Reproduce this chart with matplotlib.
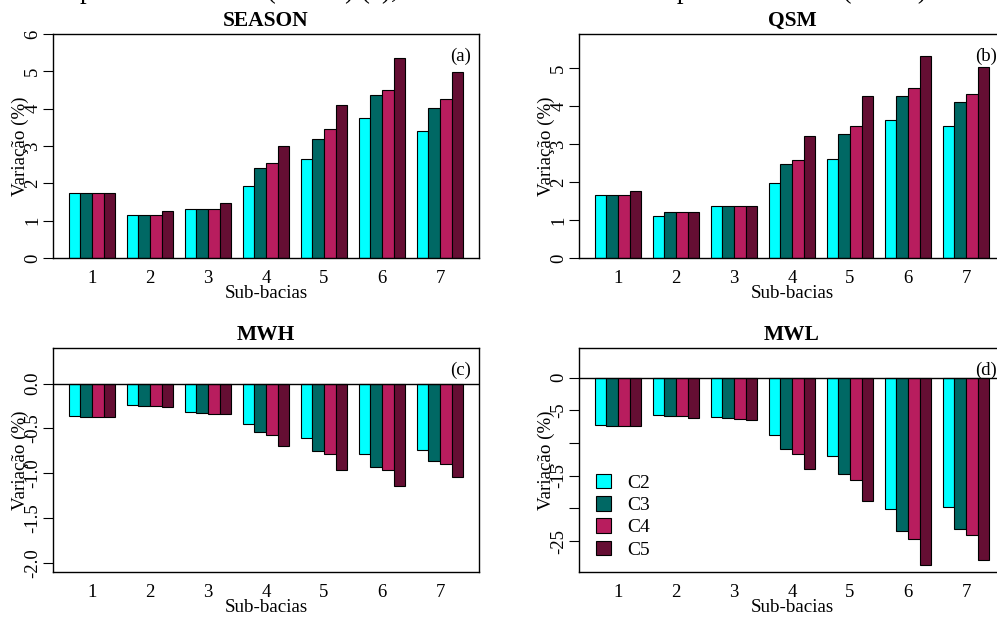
import numpy as np
import matplotlib.pyplot as plt
from matplotlib.patches import Patch

plt.rcParams['font.family'] = 'Liberation Serif'

sub_bacias = ['1', '2', '3', '4', '5', '6', '7']
cenarios = ['C2', 'C3', 'C4', 'C5']
cores = ['#00FFFF', '#006864', '#B81D5E', '#650E33']

# one row per scenario (C2..C5), one value per sub-basin
season = [[1.73, 1.16, 1.32, 1.93, 2.66, 3.75, 3.41],
          [1.73, 1.16, 1.32, 2.42, 3.19, 4.37, 4.02],
          [1.73, 1.16, 1.32, 2.54, 3.46, 4.49, 4.26],
          [1.73, 1.27, 1.46, 3.01, 4.11, 5.36, 4.98]]
qsm = [[1.65, 1.11, 1.36, 1.96, 2.61, 3.64, 3.48],
       [1.65, 1.22, 1.36, 2.47, 3.27, 4.27, 4.10],
       [1.65, 1.22, 1.36, 2.59, 3.48, 4.47, 4.30],
       [1.76, 1.22, 1.36, 3.21, 4.25, 5.31, 5.03]]
mwh = [[-0.36, -0.24, -0.32, -0.45, -0.61, -0.79, -0.74],
       [-0.37, -0.25, -0.33, -0.54, -0.75, -0.93, -0.86],
       [-0.37, -0.25, -0.34, -0.57, -0.79, -0.97, -0.90],
       [-0.37, -0.26, -0.34, -0.70, -0.96, -1.14, -1.04]]
mwl = [[-7.30, -5.66, -6.07, -8.83, -11.99, -20.10, -19.74],
       [-7.35, -5.87, -6.17, -10.87, -14.74, -23.47, -23.11],
       [-7.35, -5.87, -6.28, -11.63, -15.61, -24.64, -24.13],
       [-7.45, -6.12, -6.43, -13.98, -18.88, -28.72, -27.96]]

W, H = 997, 617
fig = plt.figure(figsize=(W / 100, H / 100), dpi=100)


def painel(left, top, dados, titulo, letra, ylim, yticks, ylabels, zero=False):
    ax = fig.add_axes([left / W, 1 - (top + 224) / H, 426 / W, 224 / H])
    x = 1 + 5 * np.arange(len(sub_bacias))
    for k in range(len(cenarios)):
        ax.bar(x + k, dados[k], width=1, align='edge', color=cores[k],
               edgecolor='black', linewidth=0.8, zorder=2)
    if zero:
        ax.axhline(0, color='black', linewidth=1, zorder=3)
    ax.set_xlim(-0.36, 36.36)
    ax.set_ylim(*ylim)
    ax.set_xticks(x + 2)
    ax.set_xticklabels(sub_bacias, fontsize=13.5)
    ax.tick_params(axis='x', length=0, pad=8.5)
    ax.set_yticks(yticks)
    ax.set_yticklabels(ylabels, fontsize=13.5, rotation=90, va='center')
    ax.tick_params(axis='y', length=7.5, width=0.8, pad=1)
    ax.set_xlabel('Sub-bacias', fontsize=13.7, labelpad=-1.5)
    ax.set_ylabel('Variação (%)', fontsize=13.7)
    ax.yaxis.set_label_coords(-24 / 426, 0.5)
    ax.set_title(titulo, fontsize=15.5, fontweight='bold', pad=6)
    ax.text(1 - 8 / 426, 1 - 22 / 224, letra, transform=ax.transAxes,
            ha='right', va='center', fontsize=13.5)
    for s in ax.spines.values():
        s.set_linewidth(1)
    return ax


painel(53, 34, season, 'SEASON', '(a)', (0, 6), range(0, 7),
       [str(v) for v in range(0, 7)])
painel(579, 34, qsm, 'QSM', '(b)', (0, 5.89), range(0, 6),
       [str(v) for v in range(0, 6)])
painel(53, 348, mwh, 'MWH', '(c)', (-2.104, 0.398),
       [0, -0.5, -1.0, -1.5, -2.0], ['0.0', '-0.5', '-1.0', '-1.5', '-2.0'],
       zero=True)
ax_d = painel(579, 348, mwl, 'MWL', '(d)', (-29.74, 4.54),
              [0, -5, -10, -15, -20, -25], ['0', '-5', '', '-15', '', '-25'],
              zero=True)

handles = [Patch(facecolor=c, edgecolor='black', linewidth=0.8) for c in cores]
ax_d.legend(handles, cenarios, loc='lower left', bbox_to_anchor=(0.04, 0.06),
            frameon=False, fontsize=14, handlelength=0.75, handleheight=0.75,
            handletextpad=0.85, labelspacing=0.22, borderpad=0, borderaxespad=0)

# title line of the original figure, cut off at the top edge
fig.text(80 / W, 1 + 2.5 / H,
         'períodos úmidos (MWH) (c), e nas chuvas médias dos períodos secos (MWL)',
         fontsize=19.5, ha='left', va='baseline')

fig.savefig('out.png', dpi=100)
